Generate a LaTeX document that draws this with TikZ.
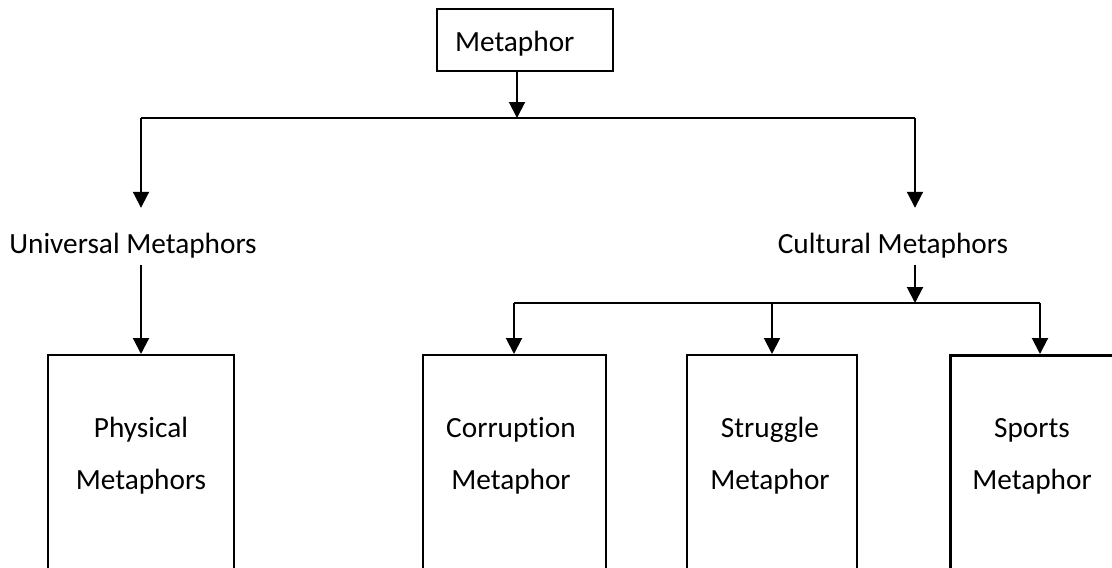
\documentclass[tikz,border=0pt]{standalone}
\usepackage{fontspec}
\setmainfont{Carlito}[Ligatures=NoCommon]
\usetikzlibrary{arrows.meta,positioning,calc}

\begin{document}
\begin{tikzpicture}[x=1pt,y=-1pt,
		txt/.style={font=\fontsize{29.3}{52}\selectfont, inner sep=0pt},
		box/.style={draw, line width=2pt, inner sep=0pt, anchor=north, minimum height=240},
		arr/.style={line width=2pt, -{Triangle[width=16pt,length=16pt]}},
		ln/.style={line width=1.8pt}]
		\useasboundingbox (0,0) rectangle (1112,568);
		\clip (0,0) rectangle (1112,568);
		% top box
		\node[draw, line width=2pt, txt, anchor=north, inner xsep=18pt, text width=140, align=left, text height=42, text depth=20] (meta) at (525,8) {Metaphor};
		\coordinate (split) at (517,118);
		\coordinate (uleft) at (141,118);
		\coordinate (cright) at (915,118);
		% second level
		\node[txt, anchor=base, text height=45, text depth=12] (univ) at (133,253) {Universal Metaphors};
		\node[txt, anchor=base, text height=45, text depth=12] (cult) at (893,253) {Cultural Metaphors};
		\coordinate (split2) at (915,303);
		% boxes
		\node[box, minimum width=186] (phys) at (141,354) {};
		\node[box, minimum width=183] (corr) at (514,354) {};
		\node[box, minimum width=170] (strug) at (772,354) {};
		\node[box, minimum width=180, line width=3pt] (sport) at (1040,354) {};
		\node[txt, align=center] (physlbl) at (141,456) {Physical\\Metaphors};
		\node[txt, align=center] (corrlbl) at (511,456) {Corruption\\Metaphor};
		\node[txt, align=center] (struglbl) at (770,456) {Struggle\\Metaphor};
		\node[txt, align=center] (sportlbl) at (1032,456) {Sports\\Metaphor};
		% connectors
		\draw[arr] (split |- meta.south) -- (split);
		\draw[ln] (uleft) -- (cright);
		\draw[arr] (uleft) -- (uleft |- univ.north);
		\draw[arr] (cright) -- (cright |- cult.north);
		\draw[arr] (phys.north |- univ.south) -- (phys.north);
		\draw[arr] (split2 |- cult.south) -- (split2);
		\draw[ln] (corr.north |- split2) -- (sport.north |- split2);
		\draw[arr] (corr.north |- split2) -- (corr.north);
		\draw[arr] (strug.north |- split2) -- (strug.north);
		\draw[arr] (sport.north |- split2) -- (sport.north);
	\end{tikzpicture}
\end{document}
